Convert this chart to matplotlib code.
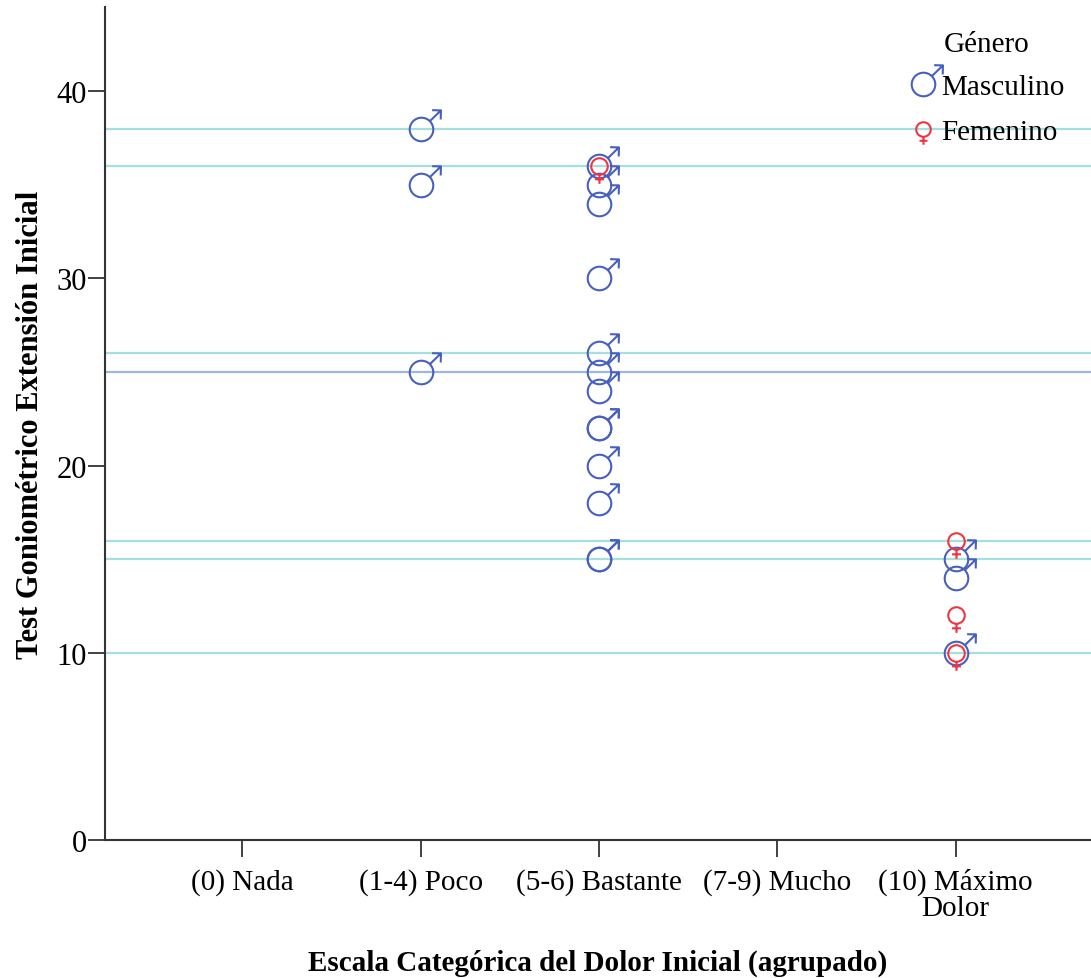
import numpy as np
import matplotlib.pyplot as plt
from matplotlib.path import Path
from matplotlib.lines import Line2D

plt.rcParams['font.family'] = ['Liberation Serif', 'DejaVu Serif']

# Categories (x axis)
categorias = ["(0) Nada", "(1-4) Poco", "(5-6) Bastante", "(7-9) Mucho", "(10) Máximo\nDolor"]

# Masculino: category index and value
masc_cat = [1, 1, 1, 2, 2, 2, 2, 2, 2, 2, 2, 2, 2, 2, 2, 2, 4, 4, 4]
masc_val = [38, 35, 25, 36, 35, 34, 30, 26, 25, 24, 22, 22, 20, 18, 15, 15, 15, 14, 10]

# Femenino
fem_cat = [2, 4, 4, 4]
fem_val = [36, 16, 12, 10]

# Reference lines
ref_lines = [38, 36, 26, 16, 15, 10]
ref_line_blue = 25

c_masc = "#4760c0"
c_fem = "#ee3642"

# custom gender markers (circle centred on the data point)
male_path = Path.make_compound_path(
    Path.unit_circle(),
    Path([(0.72, 0.72), (1.65, 1.62)], [Path.MOVETO, Path.LINETO]),
    Path([(0.9, 1.64), (1.65, 1.62), (1.63, 0.85)], [Path.MOVETO, Path.LINETO, Path.LINETO]),
)
female_path = Path.make_compound_path(
    Path.unit_circle(),
    Path([(0, -1.0), (0, -2.1)], [Path.MOVETO, Path.LINETO]),
    Path([(-0.55, -1.55), (0.55, -1.55)], [Path.MOVETO, Path.LINETO]),
)

fig = plt.figure(figsize=(10.91, 9.79), dpi=100)
ax = fig.add_axes([0.0962, 0.1409, 0.904, 0.851])

for v in ref_lines:
    ax.axhline(v, color="#a6dfe0", lw=1.6, zorder=1)
ax.axhline(ref_line_blue, color="#9db6e4", lw=1.6, zorder=1)

ax.plot(masc_cat, masc_val, ls="none", marker=male_path, ms=28,
        mfc="none", mec=c_masc, mew=1.5, zorder=3)
ax.plot(fem_cat, fem_val, ls="none", marker=female_path, ms=25,
        mfc="none", mec=c_fem, mew=1.5, zorder=4)

ax.set_xlim(-0.77, 4.76)
ax.set_ylim(0, 44.5)
ax.set_xticks(range(len(categorias)))
ax.set_xticklabels(categorias, fontsize=21, linespacing=1.0)
ax.set_yticks([0, 10, 20, 30, 40])
ax.tick_params(axis="y", labelsize=22, length=12, width=1.3, pad=1, color="#333333")
ax.tick_params(axis="x", length=12, width=1.3, pad=8, color="#333333")

for s in ["top", "right"]:
    ax.spines[s].set_visible(False)
for s in ["left", "bottom"]:
    ax.spines[s].set_linewidth(1.5)
    ax.spines[s].set_color("#333333")

ax.set_xlabel("Escala Categórica del Dolor Inicial (agrupado)", fontsize=21,
              fontweight="bold", labelpad=20)
ax.set_ylabel("Test Goniométrico Extensión Inicial", fontsize=22,
              fontweight="bold", labelpad=8)

handles = [
    Line2D([], [], ls="none", marker=male_path, ms=28, mfc="none", mec=c_masc, mew=1.5),
    Line2D([], [], ls="none", marker=female_path, ms=22, mfc="none", mec=c_fem, mew=1.5),
]
leg = ax.legend(handles, ["Masculino", "Femenino"], title="Género", loc="upper right",
                bbox_to_anchor=(1.0, 1.003), frameon=False, fontsize=21,
                title_fontsize=21, handletextpad=0.15, labelspacing=0.65,
                handlelength=1.0)
leg._legend_box.sep = 12

fig.savefig("out.png", dpi=100)
